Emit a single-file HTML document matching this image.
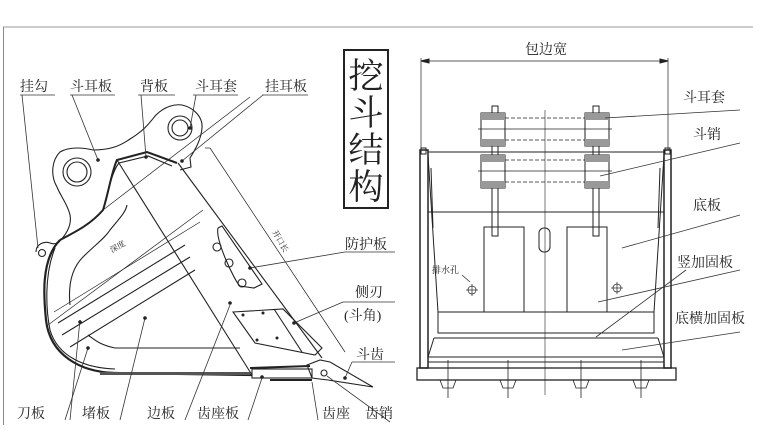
<!DOCTYPE html>
<html><head><meta charset="utf-8"><style>
html,body{margin:0;padding:0;background:#fff;}
svg{display:block}
text{font-family:"Liberation Serif","Noto Serif CJK SC",serif;fill:#222}
</style></head><body>
<svg width="767" height="431" viewBox="0 0 767 431" xmlns="http://www.w3.org/2000/svg">
<rect width="767" height="431" fill="#fff"/>
<line x1="3" y1="27" x2="753" y2="27" stroke="#bbb" stroke-width="1.5"/>
<line x1="3.5" y1="27" x2="3.5" y2="425" stroke="#888" stroke-width="1"/>

<g fill="none" stroke="#222" stroke-width="1.1">
<!-- ear plate outline -->
<path d="M58,243 C66,235 72,225 70,215 C68,205 60,195 57,187 C50,175 52,160 60,152 C70,146 85,148 93,150 C110,150 120,146 130,139 C145,130 150,122 156,115 C165,106 175,104 182,105 C195,108 203,118 202,128 C201,140 195,150 190,158 L191,167 L180,170"/>
<circle cx="77" cy="172" r="14"/><circle cx="77" cy="172" r="10"/>
<circle cx="180" cy="128" r="12"/><circle cx="180" cy="128" r="8"/>
<path d="M36,252 C36,244 44,241 50,243 C55,245 58,243 60,240"/>
<circle cx="42" cy="253" r="3.5"/>
<!-- shell -->
<path d="M60,240 C75,232 90,225 103,210 C108,195 112,170 117,160 L147,152 L177,163" stroke-width="2"/>
<path d="M104,206 C108,190 113,170 119,163 L148,156 L172,166"/>
<path d="M60,240 C40,260 44,300 46,320 C50,355 80,372 115,373 L252,375" stroke-width="2.2"/>
<path d="M55,248 C44,275 46,310 50,330 C58,357 85,368 115,369"/>
<path d="M70,305 C68,285 72,268 83,257 C95,245 105,238 110,230 C118,220 126,212 127,205"/>
<path d="M88,335 C95,340 100,345 115,348 L240,348"/>
<!-- side diagonals -->
<line x1="117" y1="160" x2="252" y2="375"/>
<line x1="178" y1="163" x2="322" y2="358"/>
<line x1="210" y1="148" x2="345" y2="352" stroke-width="0.7"/>
<line x1="205" y1="148" x2="210" y2="148" stroke-width="0.7"/>
<!-- bands -->
<line x1="48" y1="325" x2="203" y2="210" stroke-width="0.7"/>
<line x1="54" y1="312" x2="200" y2="222" stroke-width="0.7"/>
<line x1="58" y1="323" x2="185" y2="245"/>
<line x1="62" y1="335" x2="190" y2="257"/>
<line x1="70" y1="347" x2="195" y2="270"/>
<line x1="103" y1="210" x2="250" y2="97" stroke-width="0.7"/>
<!-- guard plate -->
<path d="M218,228 L222,226 L262,284 L254,288 L240,286 C235,282 215,240 218,228"/>
<circle cx="217" cy="247" r="4"/><circle cx="229" cy="263" r="4"/><circle cx="242" cy="283" r="4"/>
<!-- side blade -->
<path d="M233,312 L283,309 L322,348 L315,355 L255,343 Z"/>
<line x1="274" y1="309" x2="302" y2="352"/>
<g fill="#222" stroke="none"><circle cx="243" cy="315" r="1.5"/><circle cx="263" cy="313" r="1.5"/><circle cx="257" cy="340" r="1.5"/><circle cx="277" cy="338" r="1.5"/></g>
<!-- cutting edge / tooth -->
<rect x="252" y="369" width="60" height="9"/>
<line x1="250" y1="368" x2="310" y2="366" stroke-width="2"/>
<line x1="270" y1="380" x2="312" y2="380" stroke-width="2"/>
<path d="M307,365 L320,360 L330,362 L373,387 L328,380 L312,378 Z"/>
<circle cx="324" cy="373" r="3"/>
<rect x="100" y="372" width="150" height="3" fill="#555" stroke="none"/>
</g>
<g stroke="#333" stroke-width="0.8" fill="none">
<polyline points="20,95 55,95"/><line x1="22" y1="95" x2="38" y2="248"/>
<polyline points="70,95 115,95"/><line x1="72" y1="95" x2="98" y2="160"/>
<polyline points="138,95 175,95"/><line x1="141" y1="95" x2="146" y2="157"/>
<polyline points="193,95 238,95"/><line x1="196" y1="95" x2="190" y2="128"/>
<polyline points="262,95 308,95"/><line x1="263" y1="95" x2="182" y2="161"/>
<polyline points="345,252 395,252"/><line x1="345" y1="252" x2="250" y2="268"/>
<polyline points="343,302 395,302"/><line x1="343" y1="302" x2="294" y2="323"/>
<polyline points="352,362 395,362"/><line x1="352" y1="362" x2="345" y2="378"/>
<line x1="70" y1="420" x2="80" y2="320"/><line x1="65" y1="420" x2="88" y2="348"/>
<line x1="120" y1="420" x2="145" y2="318"/>
<line x1="185" y1="420" x2="230" y2="305"/>
<line x1="248" y1="420" x2="262" y2="378"/>
<line x1="318" y1="420" x2="312" y2="382"/>
<line x1="390" y1="422" x2="327" y2="376"/>
</g>
<g fill="#222">
<circle cx="98" cy="160" r="1.8"/><circle cx="146" cy="157" r="1.8"/><circle cx="190" cy="128" r="1.8"/><circle cx="182" cy="161" r="1.8"/>
<circle cx="250" cy="268" r="1.8"/><circle cx="294" cy="323" r="1.8"/><circle cx="345" cy="378" r="1.8"/>
<circle cx="80" cy="322" r="1.8"/><circle cx="88" cy="348" r="1.8"/><circle cx="145" cy="318" r="1.8"/><circle cx="230" cy="303" r="1.8"/><circle cx="262" cy="377" r="1.8"/>
</g>
<g font-size="14">
<text x="20" y="91">挂勾</text><text x="70" y="91">斗耳板</text><text x="140" y="91">背板</text><text x="195" y="91">斗耳套</text><text x="265" y="91">挂耳板</text>
<text x="345" y="249">防护板</text><text x="355" y="297">侧刃</text><text x="344" y="320">(斗角)</text><text x="356" y="359">斗齿</text>
<text x="17" y="418">刀板</text><text x="82" y="418">堵板</text><text x="147" y="418">边板</text><text x="197" y="418">齿座板</text><text x="322" y="418">齿座</text><text x="365" y="418">齿销</text>
</g>
<text x="112" y="253" font-size="8" transform="rotate(-30 112 253)">深度</text>
<text x="272" y="232" font-size="8" transform="rotate(60 272 232)">开口长</text>
<rect x="344" y="50" width="44" height="158" fill="none" stroke="#222" stroke-width="2"/>
<g font-size="35" text-anchor="middle"><text x="366" y="88">挖</text><text x="366" y="125">斗</text><text x="366" y="162">结</text><text x="366" y="199">构</text></g>

<!-- right diagram -->
<g fill="none" stroke="#222" stroke-width="1">
<line x1="421" y1="58" x2="421" y2="150" stroke-width="0.7"/><line x1="668" y1="58" x2="668" y2="150" stroke-width="0.7"/>
<line x1="421" y1="61" x2="668" y2="61" stroke-width="0.7"/>
<path d="M421,61 l8,-2 v4z M668,61 l-8,-2 v4z" fill="#222"/>
<line x1="545" y1="110" x2="545" y2="395" stroke-width="0.6"/>
<line x1="428" y1="152" x2="664" y2="152"/>
<line x1="428" y1="212" x2="664" y2="212"/>
<rect x="420" y="150" width="8" height="218" stroke-width="1.5"/>
<rect x="664" y="150" width="7" height="218" stroke-width="1.5"/>
<rect x="421" y="148" width="5" height="6"/><rect x="665" y="148" width="5" height="6"/>
<line x1="428" y1="155" x2="438" y2="312"/><line x1="664" y1="155" x2="654" y2="312"/>
<path d="M431,168 l2,60" /><path d="M660,168 l-2,60"/>
<rect x="484" y="227" width="40" height="85"/><rect x="567" y="227" width="40" height="85"/>
<rect x="539" y="228" width="11" height="24" rx="5"/>
<rect x="438" y="312" width="216" height="21"/>
<line x1="434" y1="338" x2="658" y2="338"/><line x1="428" y1="357" x2="664" y2="357"/><line x1="428" y1="362" x2="664" y2="362"/>
<line x1="434" y1="338" x2="428" y2="357"/><line x1="658" y1="338" x2="664" y2="357"/>
<rect x="417" y="368" width="259" height="12" stroke-width="1.3"/>
<rect x="492" y="106" width="6" height="130"/><rect x="593" y="106" width="6" height="130"/>
<rect x="481" y="113" width="24" height="33" fill="#fff"/><rect x="481" y="155" width="24" height="33" fill="#fff"/>
<rect x="585" y="113" width="24" height="33" fill="#fff"/><rect x="585" y="155" width="24" height="33" fill="#fff"/>
<g stroke-dasharray="4,2" stroke-width="0.7"><line x1="505" y1="118" x2="585" y2="118"/><line x1="505" y1="140" x2="585" y2="140"/><line x1="505" y1="160" x2="585" y2="160"/><line x1="505" y1="182" x2="585" y2="182"/></g>
<line x1="478" y1="129" x2="612" y2="129" stroke-width="0.7"/><line x1="478" y1="171" x2="612" y2="171" stroke-width="0.7"/>
<g stroke-width="0.8">
<path d="M440,380 L443,388 L453,388 L456,380"/><path d="M500,380 L503,388 L513,388 L516,380"/><path d="M573,380 L576,388 L586,388 L589,380"/><path d="M633,380 L636,388 L646,388 L649,380"/>
<line x1="448" y1="360" x2="448" y2="398"/><line x1="508" y1="360" x2="508" y2="398"/><line x1="581" y1="360" x2="581" y2="398"/><line x1="641" y1="360" x2="641" y2="398"/></g>
<g stroke-width="0.7"><circle cx="472" cy="290" r="4"/><circle cx="617" cy="288" r="4"/>
<line x1="466" y1="290" x2="478" y2="290"/><line x1="472" y1="284" x2="472" y2="296"/><line x1="611" y1="288" x2="623" y2="288"/><line x1="617" y1="282" x2="617" y2="294"/></g>
</g>
<g fill="#999"><rect x="481" y="113" width="24" height="7"/><rect x="481" y="139" width="24" height="7"/><rect x="481" y="155" width="24" height="7"/><rect x="481" y="181" width="24" height="7"/>
<rect x="585" y="113" width="24" height="7"/><rect x="585" y="139" width="24" height="7"/><rect x="585" y="155" width="24" height="7"/><rect x="585" y="181" width="24" height="7"/></g>
<g stroke="#333" stroke-width="0.8">
<line x1="605" y1="118" x2="740" y2="110"/><line x1="600" y1="176" x2="740" y2="143"/>
<line x1="622" y1="248" x2="740" y2="215"/><line x1="598" y1="302" x2="740" y2="270"/><line x1="596" y1="337" x2="686" y2="270"/>
<line x1="622" y1="350" x2="740" y2="332"/><line x1="470" y1="282" x2="462" y2="275"/>
</g>
<g font-size="14"><text x="683" y="102">斗耳套</text><text x="693" y="139">斗销</text><text x="693" y="210">底板</text><text x="677" y="267">竖加固板</text><text x="675" y="323">底横加固板</text><text x="525" y="54">包边宽</text></g>
<text x="432" y="273" font-size="9">排水孔</text>
</svg>
</body></html>
